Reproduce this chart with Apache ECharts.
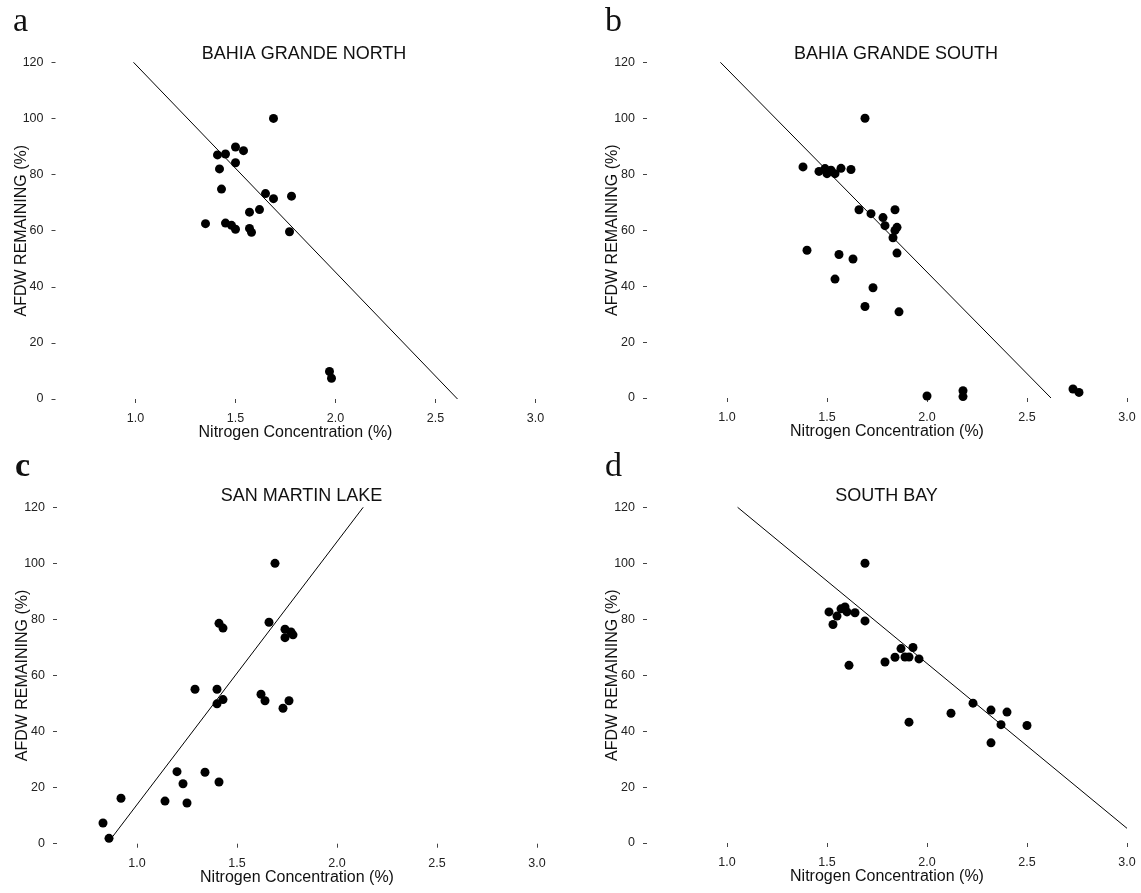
<!DOCTYPE html>
<html><head><meta charset="utf-8">
<script src="https://cdn.jsdelivr.net/npm/echarts@6/dist/echarts.min.js"></script>
<style>html,body{margin:0;padding:0;background:#fff}#c{width:1141px;height:893px}</style>
</head><body><div id="c"></div>
<script>
// ---- data ----
const panelTitles = ['BAHIA GRANDE NORTH', 'BAHIA GRANDE SOUTH', 'SAN MARTIN LAKE', 'SOUTH BAY'];
const panelLetters = ['a', 'b', 'c', 'd'];
const xTicks = [1.0, 1.5, 2.0, 2.5, 3.0];
const yTicks = [0, 20, 40, 60, 80, 100, 120];
const xName = 'Nitrogen Concentration (%)';
const yName = 'AFDW REMAINING (%)';

const aX = [1.69, 1.50, 1.54, 1.41, 1.45, 1.50, 1.42, 1.43, 1.65, 1.69, 1.78, 1.57, 1.62, 1.35, 1.45, 1.48, 1.50, 1.57, 1.58, 1.77, 1.97, 1.98];
const aY = [100, 89.8, 88.5, 87.0, 87.3, 84.2, 82.0, 74.8, 73.2, 71.4, 72.3, 66.6, 67.5, 62.5, 62.7, 61.9, 60.5, 60.8, 59.4, 59.6, 9.8, 7.4];

const bX = [1.69, 1.38, 1.40, 1.46, 1.49, 1.50, 1.52, 1.54, 1.57, 1.62, 1.56, 1.63, 1.54, 1.73, 1.69, 1.86, 1.66, 1.72, 1.78, 1.79, 1.84, 1.84, 1.85, 1.83, 1.85, 2.00, 2.18, 2.18, 2.73, 2.76];
const bY = [100, 82.6, 52.8, 81.0, 82.0, 80.2, 81.4, 80.2, 82.1, 81.7, 51.3, 49.7, 42.5, 39.4, 32.7, 30.8, 67.3, 65.9, 64.5, 61.6, 67.3, 59.9, 61.0, 57.3, 51.8, 0.7, 2.6, 0.5, 3.2, 2.0];

const cX = [1.69, 1.41, 1.43, 1.66, 1.74, 1.77, 1.78, 1.74, 1.29, 1.40, 1.43, 1.40, 1.62, 1.64, 1.76, 1.73, 1.20, 1.34, 1.41, 1.23, 1.14, 1.25, 0.92, 0.83, 0.86];
const cY = [100, 78.6, 76.9, 79.0, 76.5, 75.5, 74.5, 73.5, 55.1, 55.1, 51.4, 49.9, 53.3, 51.0, 51.0, 48.3, 25.7, 25.5, 22.0, 21.4, 15.2, 14.5, 16.2, 7.4, 1.9];

const dX = [1.69, 1.51, 1.53, 1.55, 1.57, 1.59, 1.60, 1.64, 1.69, 1.61, 1.79, 1.84, 1.87, 1.89, 1.91, 1.93, 1.96, 1.91, 2.12, 2.23, 2.32, 2.40, 2.37, 2.50, 2.32];
const dY = [100, 82.6, 78.1, 81.1, 83.7, 84.4, 82.6, 82.3, 79.4, 63.5, 64.7, 66.4, 69.5, 66.5, 66.5, 69.9, 65.8, 43.2, 46.4, 50.0, 47.5, 46.8, 42.3, 42.0, 35.8];

// fitted regression lines (end points)
const aLineX = [0.99, 2.61];  const aLineY = [120, 0];
const bLineX = [0.967, 2.62]; const bLineY = [120, 0];
const cLineX = [0.878, 2.131]; const cLineY = [2.5, 120];
const dLineX = [1.053, 3.0];  const dLineY = [120, 5.25];

// ---- layout ----
const grids = [
  {left: 55.5, top: 62.3, width: 480, height: 336.7},
  {left: 647, top: 62.3, width: 480, height: 335.7},
  {left: 57, top: 507.3, width: 480, height: 336.4},
  {left: 647, top: 507.3, width: 480, height: 335.7}
];
const titleCX = [299, 891, 296.5, 881.5];
const titleTop = [40, 40, 482, 482];
const letterPos = [[8, 0], [600, 0], [10, 445], [600, 445]];

const pts = [[aX, aY], [bX, bY], [cX, cY], [dX, dY]];
const lines = [[aLineX, aLineY], [bLineX, bLineY], [cLineX, cLineY], [dLineX, dLineY]];
const zip = (xs, ys) => xs.map((x, i) => [x, ys[i]]);

const SANS = 'Liberation Sans, Arial, sans-serif';
const tickColor = '#444';
const option = {
  animation: false,
  backgroundColor: '#fff',
  title: [],
  grid: [], xAxis: [], yAxis: [], series: []
};
for (let i = 0; i < 4; i++) {
  option.grid.push(Object.assign({containLabel: false}, grids[i]));
  option.title.push({
    text: panelTitles[i], left: titleCX[i], top: titleTop[i], textAlign: 'center',
    textStyle: {fontFamily: SANS, fontSize: 18, fontWeight: 'normal', color: '#111', lineHeight: 18}
  });
  option.title.push({
    text: panelLetters[i], left: letterPos[i][0], top: letterPos[i][1],
    textStyle: {fontFamily: 'Liberation Serif, serif', fontSize: 34, fontWeight: i === 2 ? 'bold' : 'normal', color: '#111', lineHeight: 34}
  });
  option.xAxis.push({
    type: 'value', gridIndex: i, min: 0.6, max: 3.0,
    name: xName, nameLocation: 'middle', nameGap: 26, nameMoveOverlap: false,
    nameTextStyle: {fontFamily: SANS, fontSize: 16, color: '#111'},
    axisLine: {show: false},
    splitLine: {show: false},
    axisTick: {show: true, length: 4, customValues: xTicks, lineStyle: {color: tickColor, width: 1}},
    axisLabel: {customValues: xTicks, margin: 13, fontFamily: SANS, fontSize: 12.5, color: '#222',
      formatter: v => Number(v).toFixed(1)}
  });
  option.yAxis.push({
    type: 'value', gridIndex: i, min: 0, max: 120,
    name: yName, nameLocation: 'middle', nameGap: 26, nameRotate: 90, nameMoveOverlap: false,
    nameTextStyle: {fontFamily: SANS, fontSize: 16, color: '#111'},
    axisLine: {show: false},
    splitLine: {show: false},
    axisTick: {show: true, length: 4, customValues: yTicks, lineStyle: {color: tickColor, width: 1}},
    axisLabel: {customValues: yTicks, margin: 12, fontFamily: SANS, fontSize: 12.5, color: '#222'}
  });
  option.series.push({
    type: 'line', xAxisIndex: i, yAxisIndex: i,
    data: zip(lines[i][0], lines[i][1]), symbol: 'none', clip: false, silent: true,
    lineStyle: {color: '#000', width: 1}
  });
  option.series.push({
    type: 'scatter', xAxisIndex: i, yAxisIndex: i,
    data: zip(pts[i][0], pts[i][1]), symbol: 'circle', symbolSize: 9, clip: false, silent: true,
    itemStyle: {color: '#000', opacity: 1}
  });
}
const chart = echarts.init(document.getElementById('c'), null, {renderer: 'canvas'});
chart.setOption(option);
</script>
</body></html>
